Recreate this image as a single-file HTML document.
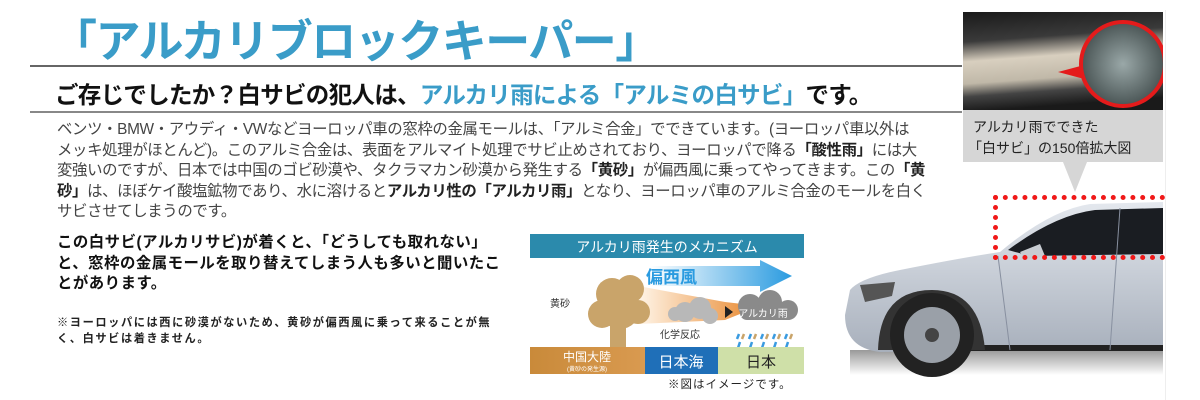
<!DOCTYPE html>
<html><head><meta charset="utf-8">
<style>
*{margin:0;padding:0;box-sizing:border-box}
body{width:1200px;height:400px;background:#fff;position:relative;overflow:hidden;font-family:"Liberation Sans","Noto Sans CJK JP",sans-serif;color:#333}
.a{position:absolute;white-space:nowrap}
.title{left:52px;top:5px;font-size:45px;color:#3a9cc8;letter-spacing:-1.5px;font-weight:bold}
.l1{left:30px;top:65px;width:932px;height:2px;background:#666}
.l2{left:30px;top:111px;width:932px;height:2px;background:#888}
.sub{left:55px;top:76px;font-size:23.5px;font-weight:bold;color:#111;letter-spacing:-.7px}
.sub span{color:#3a9cc8}
.body{left:57px;top:120px;font-size:15.4px;line-height:20.6px;color:#444;letter-spacing:-.35px}
.body b{color:#222}
.bold{left:57px;top:233px;font-size:15.4px;line-height:20.5px;font-weight:bold;color:#111;letter-spacing:.5px}
.note{left:57px;top:315px;font-size:11.2px;line-height:16px;color:#222;font-weight:bold;letter-spacing:1.6px}
</style></head><body>
<div class="a title">「アルカリブロックキーパー」</div>
<div class="a l1"></div>
<div class="a sub">ご存じでしたか？白サビの犯人は、<span>アルカリ雨による「アルミの白サビ」</span>です。</div>
<div class="a l2"></div>
<div class="a body">ベンツ・BMW・アウディ・VWなどヨーロッパ車の窓枠の金属モールは、「アルミ合金」でできています。(ヨーロッパ車以外は<br>メッキ処理がほとんど)。このアルミ合金は、表面をアルマイト処理でサビ止めされており、ヨーロッパで降る<b>「酸性雨」</b>には大<br>変強いのですが、日本では中国のゴビ砂漠や、タクラマカン砂漠から発生する<b>「黄砂」</b>が偏西風に乗ってやってきます。この<b>「黄<br>砂」</b>は、ほぼケイ酸塩鉱物であり、水に溶けると<b>アルカリ性の「アルカリ雨」</b>となり、ヨーロッパ車のアルミ合金のモールを白く<br>サビさせてしまうのです。</div>
<div class="a bold">この白サビ(アルカリサビ)が着くと、「どうしても取れない」<br>と、窓枠の金属モールを取り替えてしまう人も多いと聞いたこ<br>とがあります。</div>
<div class="a note">※ヨーロッパには西に砂漠がないため、黄砂が偏西風に乗って来ることが無<br>く、白サビは着きません。</div>

<svg class="a" style="left:530px;top:234px" width="274" height="140" viewBox="0 0 274 140">
<defs>
<linearGradient id="wind" x1="0" x2="1"><stop offset="0" stop-color="#fff"/><stop offset="1" stop-color="#2a9be0"/></linearGradient>
<linearGradient id="beam" x1="0" x2="1"><stop offset="0" stop-color="#fff5e8"/><stop offset="1" stop-color="#e8862a"/></linearGradient>
<linearGradient id="cn" x1="0" x2="1"><stop offset="0" stop-color="#c98a3a"/><stop offset="1" stop-color="#d99a50"/></linearGradient>
</defs>
<rect width="274" height="140" fill="#fff"/>
<rect width="274" height="24" fill="#2b8aac"/>
<text x="137" y="18" font-size="14" fill="#fff" text-anchor="middle" font-family="Liberation Sans,Noto Sans CJK JP,sans-serif">アルカリ雨発生のメカニズム</text>
<polygon points="120,32 230,32 230,26 262,42 230,58 230,52 120,52" fill="url(#wind)"/>
<text x="116" y="49" font-size="17" fill="#2a9be0" font-weight="bold" font-family="Liberation Sans,Noto Sans CJK JP,sans-serif">偏西風</text>
<polygon points="108,52 195,68 230,72 195,86 108,90" fill="url(#beam)"/>
<g fill="#c9a46a"><circle cx="82" cy="60" r="16"/><circle cx="100" cy="55" r="14"/><circle cx="90" cy="75" r="20"/><circle cx="72" cy="80" r="14"/><circle cx="108" cy="78" r="12"/><rect x="80" y="85" width="16" height="30"/></g>
<g fill="#b8b8b8"><circle cx="155" cy="78" r="10"/><circle cx="170" cy="74" r="11"/><circle cx="145" cy="80" r="7"/><circle cx="180" cy="82" r="8"/></g>
<polygon points="195,72 203,78 195,84" fill="#222"/>
<g fill="#8a8a8a"><circle cx="220" cy="72" r="12"/><circle cx="240" cy="68" r="12"/><circle cx="258" cy="76" r="10"/><rect x="210" y="72" width="55" height="14" rx="7"/></g>
<text x="233" y="83" font-size="10" fill="#fff" text-anchor="middle" font-family="Liberation Sans,Noto Sans CJK JP,sans-serif">アルカリ雨</text>
<text x="20" y="73" font-size="10" fill="#333" font-family="Liberation Sans,Noto Sans CJK JP,sans-serif">黄砂</text>
<text x="130" y="104" font-size="10" fill="#333" font-family="Liberation Sans,Noto Sans CJK JP,sans-serif">化学反応</text>
<g stroke="#3a9be0" stroke-width="2.5"><path d="M210 108l-2 6M222 108l-2 6M234 108l-2 6M246 108l-2 6M258 108l-2 6M209 100l-2 5M221 100l-2 5M233 100l-2 5M245 100l-2 5M257 100l-2 5"/></g>
<g stroke="#c9a46a" stroke-width="2.5"><path d="M214 100l-2 5M226 100l-2 5M238 100l-2 5M250 100l-2 5M262 100l-2 5"/></g>
<rect x="0" y="113" width="115" height="27" fill="url(#cn)"/>
<rect x="115" y="113" width="73" height="27" fill="#1f6fb8"/>
<rect x="188" y="113" width="86" height="27" fill="#cfe0a8"/>
<text x="57" y="127" font-size="12" fill="#fff" text-anchor="middle" font-family="Liberation Sans,Noto Sans CJK JP,sans-serif">中国大陸</text>
<text x="57" y="137" font-size="6" fill="#fff" text-anchor="middle" font-family="Liberation Sans,Noto Sans CJK JP,sans-serif">(黄砂の発生源)</text>
<text x="151" y="133" font-size="15" fill="#fff" text-anchor="middle" font-family="Liberation Sans,Noto Sans CJK JP,sans-serif">日本海</text>
<text x="231" y="133" font-size="15" fill="#222" text-anchor="middle" font-family="Liberation Sans,Noto Sans CJK JP,sans-serif">日本</text>
</svg>
<div class="a" style="left:668px;top:376px;font-size:11.5px;color:#222;letter-spacing:1px">※図はイメージです。</div>

<svg class="a" style="left:963px;top:12px" width="200" height="182" viewBox="0 0 200 182">
<defs><linearGradient id="bar" x1="0" y1="0" x2="0.15" y2="1"><stop offset="0" stop-color="#1a1a1a"/><stop offset=".3" stop-color="#3a3a3a"/><stop offset=".5" stop-color="#d8cfbf"/><stop offset=".72" stop-color="#c0b8a8"/><stop offset=".85" stop-color="#444"/><stop offset="1" stop-color="#1a1a1a"/></linearGradient>
<radialGradient id="mag"><stop offset="0" stop-color="#9aa8a8"/><stop offset="1" stop-color="#4a5555"/></radialGradient></defs>
<rect width="200" height="98" fill="url(#bar)"/>
<polygon points="95,60 140,48 140,72" fill="#e41b1b"/>
<circle cx="160" cy="52" r="42" fill="url(#mag)" stroke="#e41b1b" stroke-width="4"/>
<rect y="98" width="200" height="52" fill="#d6d6d6"/>
<polygon points="100,150 124,150 112,180" fill="#d6d6d6"/>
<text x="10" y="120" font-size="14" fill="#222" font-family="Liberation Sans,Noto Sans CJK JP,sans-serif">アルカリ雨でできた</text>
<text x="5" y="141" font-size="14" fill="#222" font-family="Liberation Sans,Noto Sans CJK JP,sans-serif">「白サビ」の150倍拡大図</text>
</svg>

<svg class="a" style="left:840px;top:190px" width="326" height="200" viewBox="0 0 326 200">
<defs><linearGradient id="body" x1="0" y1="0" x2="0" y2="1"><stop offset="0" stop-color="#e4e8ee"/><stop offset="1" stop-color="#a8b0bc"/></linearGradient>
<linearGradient id="sh" x1="0" y1="0" x2="0" y2="1"><stop offset="0" stop-color="#999"/><stop offset="1" stop-color="#fff"/></linearGradient></defs>
<rect x="10" y="160" width="313" height="25" fill="url(#sh)"/>
<path d="M10 100 Q20 88 60 80 Q120 68 160 62 Q210 20 250 14 L323 12 L323 158 L40 162 Q5 158 5 125 Z" fill="url(#body)"/>
<path d="M168 60 Q215 25 255 20 L323 18 L323 64 L190 66 Z" fill="#1a1d22"/>
<path d="M180 62 L200 54 L205 66 L185 70 Z" fill="#c8ccd2"/>
<rect x="120" y="155" width="203" height="6" fill="#222"/>
<path d="M38 160 Q40 100 92 100 Q140 100 145 160 Z" fill="#333"/>
<circle cx="92" cy="145" r="42" fill="#222"/>
<circle cx="92" cy="145" r="28" fill="#9aa0a8"/>
<circle cx="92" cy="145" r="7" fill="#444"/>
<path d="M20 95 L55 92 L52 106 L25 112 Z" fill="#555"/>
<line x1="158" y1="66" x2="170" y2="160" stroke="#8890a0" stroke-width="1"/>
<line x1="280" y1="18" x2="270" y2="160" stroke="#8890a0" stroke-width="1"/>
</svg>
<div class="a" style="left:993px;top:195px;width:172px;height:65px;border:5px dotted #f01818;border-right:none"></div>
<div class="a" style="left:1165px;top:10px;width:1px;height:390px;background:#eee"></div>
</body></html>
